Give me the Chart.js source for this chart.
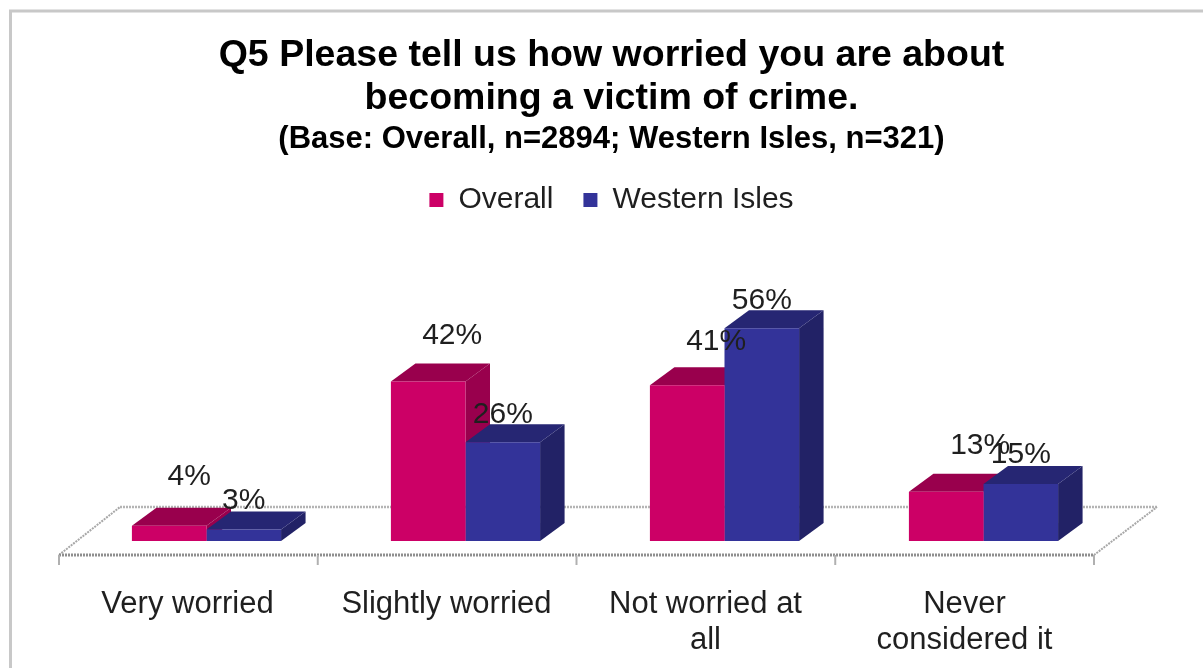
<!DOCTYPE html>
<html>
<head>
<meta charset="utf-8">
<title>Q5</title>
<script src="https://cdn.jsdelivr.net/npm/chart.js@4"></script>
<style>
    html, body { margin: 0; padding: 0; background: #fff; }
    canvas { display: block; }
</style>
</head>
<body>
<canvas id="crimeChart" width="1203" height="668"></canvas>
<script>
    // Data
    const categories = ["Very worried", "Slightly worried", ["Not worried at", "all"], ["Never", "considered it"]];
    const overallValues = [4, 42, 41, 13];
    const westernIslesValues = [3, 26, 56, 15];

    const titleLines = ["Q5 Please tell us how worried you are about", "becoming a victim of crime."];
    const baseLine = "(Base: Overall, n=2894; Western Isles, n=321)";

    const textFont = "'Liberation Sans', Arial, sans-serif";
    const textColor = "#1f1f1f";

    // The 3D look: how far the back of a bar sits from its front
    const depthX = 24.5;
    const depthY = -18;

    // Face colours per series
    const topColors = ["#99004d", "#262673"];
    const sideColors = ["#99004d", "#222266"];

    // Labels overlap in the original, each pink one is pushed to the right
    const labelShiftX = [[20, 24, 29, 34], [0, 0, 0, 0]];
    const labelShiftY = [[-49, -46, -44, -46], [-29, -28, -28, -29]];

    function fillShape(ctx, color, points) {
        ctx.fillStyle = color;
        ctx.beginPath();
        points.forEach((p, i) => i === 0 ? ctx.moveTo(p[0], p[1]) : ctx.lineTo(p[0], p[1]));
        ctx.closePath();
        ctx.fill();
    }

    function strokeLine(ctx, x1, y1, x2, y2) {
        ctx.beginPath();
        ctx.moveTo(x1, y1);
        ctx.lineTo(x2, y2);
        ctx.stroke();
    }

    // Frame, floor and the depth faces of the bars, all under the front faces
    const boxPlugin = {
        id: "boxPlugin",
        beforeDatasetsDraw(chart) {
            const ctx = chart.ctx;
            const xScale = chart.scales.x;
            const base = chart.scales.y.getPixelForValue(0);

            ctx.save();
            ctx.strokeStyle = "#c8c8c8";
            ctx.lineWidth = 3;
            strokeLine(ctx, 10.5, 668, 10.5, 11);
            strokeLine(ctx, 9, 11, 1203, 11);

            // Floor
            const left = xScale.left - 18;
            const right = xScale.right - 19;
            const front = base + 14;
            const back = base - 34;
            ctx.setLineDash([2, 1]);
            ctx.lineWidth = 2.5;
            ctx.strokeStyle = "#b4b4b4";
            strokeLine(ctx, left + 61, back, right + 63, back);
            ctx.strokeStyle = "#a8a8a8";
            ctx.lineWidth = 2;
            strokeLine(ctx, left, front, left + 61, back);
            strokeLine(ctx, right, front, right + 63, back);
            ctx.strokeStyle = "#8f8f8f";
            ctx.lineWidth = 3;
            strokeLine(ctx, left, front, right, front);
            ctx.setLineDash([]);

            // Tick marks between the categories
            const step = (right - left) / categories.length;
            ctx.strokeStyle = "#b0b0b0";
            ctx.lineWidth = 2;
            for (let i = 0; i <= categories.length; i++) {
                strokeLine(ctx, left + step * i, front, left + step * i, front + 10);
            }

            chart.data.datasets.forEach((dataset, d) => {
                chart.getDatasetMeta(d).data.forEach(bar => {
                    const l = bar.x - bar.width / 2;
                    const r = bar.x + bar.width / 2;
                    fillShape(ctx, sideColors[d], [[r, bar.y], [r + depthX, bar.y + depthY], [r + depthX, base + depthY], [r, base]]);
                    fillShape(ctx, topColors[d], [[l, bar.y], [l + depthX, bar.y + depthY], [r + depthX, bar.y + depthY], [r, bar.y]]);
                });
            });
            ctx.restore();
        },
        afterDatasetsDraw(chart) {
            const ctx = chart.ctx;
            ctx.save();
            ctx.fillStyle = textColor;
            ctx.font = "30px " + textFont;
            ctx.textAlign = "center";
            ctx.textBaseline = "middle";
            chart.data.datasets.forEach((dataset, d) => {
                chart.getDatasetMeta(d).data.forEach((bar, i) => {
                    ctx.fillText(dataset.data[i] + "%", bar.x + labelShiftX[d][i], bar.y + labelShiftY[d][i]);
                });
            });
            ctx.restore();
        }
    };

    new Chart(document.getElementById("crimeChart").getContext("2d"), {
        type: "bar",
        plugins: [boxPlugin],
        data: {
            labels: categories,
            datasets: [
                { label: "Overall", data: overallValues, backgroundColor: "#cc0066" },
                { label: "Western Isles", data: westernIslesValues, backgroundColor: "#333399" }
            ]
        },
        options: {
            responsive: false,
            animation: false,
            categoryPercentage: 0.576,
            barPercentage: 1,
            layout: { padding: { left: 20, right: 0, top: 0, bottom: 0 } },
            plugins: {
                title: {
                    display: true,
                    text: titleLines,
                    color: "#000",
                    font: { family: textFont, size: 37.5, weight: "bold", lineHeight: 43 / 37.5 },
                    padding: { top: 34, bottom: 0 }
                },
                subtitle: {
                    display: true,
                    text: baseLine,
                    color: "#000",
                    font: { family: textFont, size: 31, weight: "bold", lineHeight: 32 / 31 },
                    padding: { top: 3, bottom: 0 }
                },
                legend: {
                    position: "top",
                    labels: {
                        boxWidth: 14,
                        boxHeight: 14,
                        padding: 30,
                        color: textColor,
                        font: { family: textFont, size: 30 }
                    }
                },
                tooltip: { enabled: false }
            },
            scales: {
                x: {
                    grid: { display: false, drawTicks: false },
                    border: { display: false },
                    ticks: {
                        color: textColor,
                        padding: 45,
                        labelOffset: -19,
                        maxRotation: 0,
                        autoSkip: false,
                        font: { family: textFont, size: 31, lineHeight: 36 / 31 }
                    },
                    afterFit(scale) { scale.height = 127; }
                },
                y: {
                    min: 0,
                    max: 83.2,
                    ticks: { display: false },
                    grid: { display: false },
                    border: { display: false },
                    afterFit(scale) { scale.width = 57; }
                },
                yRight: {
                    axis: "y",
                    position: "right",
                    ticks: { display: false },
                    grid: { display: false },
                    border: { display: false },
                    afterFit(scale) { scale.width = 90; }
                }
            }
        }
    });
</script>
</body>
</html>
